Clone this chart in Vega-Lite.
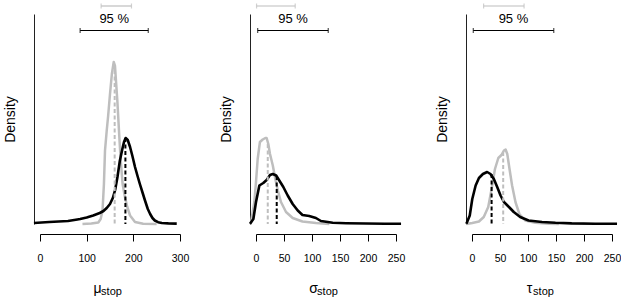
{
  "$schema": "https://vega.github.io/schema/vega-lite/v6.json",
  "padding": {"left": 3, "top": 3, "right": 0, "bottom": 0},
  "bounds": "flush",
  "spacing": 76,
  "config": {
    "view": {"stroke": null},
    "font": "Liberation Sans",
    "axisX": {"offset": 10, "tickSize": 7, "domainColor": "#000", "tickColor": "#000", "labelFontSize": 10.5, "labelColor": "#000", "labelPadding": 12, "labelFlush": false, "labelOverlap": false, "titleFontWeight": "normal", "titleColor": "#000", "titleBaseline": "alphabetic", "titleAlign": "center", "grid": false},
    "axisY": {"offset": 6, "ticks": false, "labels": false, "domainColor": "#222", "grid": false, "titleFontSize": 14, "titleFontWeight": "normal", "titleColor": "#000", "titlePadding": 17}
  },
  "datasets": {
    "curves": [
      {"p":"mu","s":"prior","x":91,"d":0},{"p":"mu","s":"prior","x":110,"d":0.5},{"p":"mu","s":"prior","x":125,"d":1.5},{"p":"mu","s":"prior","x":130,"d":5},{"p":"mu","s":"prior","x":134,"d":13.5},{"p":"mu","s":"prior","x":137,"d":40},{"p":"mu","s":"prior","x":139.3,"d":73.5},{"p":"mu","s":"prior","x":143,"d":93.5},{"p":"mu","s":"prior","x":146,"d":108},{"p":"mu","s":"prior","x":150,"d":130},{"p":"mu","s":"prior","x":154,"d":150},{"p":"mu","s":"prior","x":158,"d":162},{"p":"mu","s":"prior","x":160.7,"d":158},{"p":"mu","s":"prior","x":163,"d":142},{"p":"mu","s":"prior","x":165.7,"d":123.5},{"p":"mu","s":"prior","x":170,"d":87},{"p":"mu","s":"prior","x":173,"d":63.5},{"p":"mu","s":"prior","x":177,"d":40},{"p":"mu","s":"prior","x":182,"d":27},{"p":"mu","s":"prior","x":187,"d":17},{"p":"mu","s":"prior","x":193,"d":8.5},{"p":"mu","s":"prior","x":203.6,"d":2},{"p":"mu","s":"prior","x":221,"d":0.3},{"p":"mu","s":"prior","x":250,"d":0},
      {"p":"mu","s":"post","x":-13,"d":1},{"p":"mu","s":"post","x":20,"d":2},{"p":"mu","s":"post","x":60,"d":3},{"p":"mu","s":"post","x":80,"d":4.5},{"p":"mu","s":"post","x":86,"d":5},{"p":"mu","s":"post","x":100,"d":6.5},{"p":"mu","s":"post","x":114,"d":8.5},{"p":"mu","s":"post","x":128,"d":11},{"p":"mu","s":"post","x":136,"d":13},{"p":"mu","s":"post","x":143,"d":16},{"p":"mu","s":"post","x":150,"d":20},{"p":"mu","s":"post","x":156,"d":26},{"p":"mu","s":"post","x":161,"d":34},{"p":"mu","s":"post","x":166,"d":47},{"p":"mu","s":"post","x":171,"d":63},{"p":"mu","s":"post","x":176,"d":74},{"p":"mu","s":"post","x":180,"d":82},{"p":"mu","s":"post","x":183.5,"d":86},{"p":"mu","s":"post","x":188,"d":84},{"p":"mu","s":"post","x":193,"d":77},{"p":"mu","s":"post","x":198,"d":68},{"p":"mu","s":"post","x":203.6,"d":57},{"p":"mu","s":"post","x":209,"d":48},{"p":"mu","s":"post","x":214,"d":40},{"p":"mu","s":"post","x":220,"d":31},{"p":"mu","s":"post","x":225,"d":23.5},{"p":"mu","s":"post","x":231,"d":15},{"p":"mu","s":"post","x":236,"d":10},{"p":"mu","s":"post","x":241,"d":6},{"p":"mu","s":"post","x":246,"d":3.5},{"p":"mu","s":"post","x":253,"d":1.8},{"p":"mu","s":"post","x":261,"d":1},{"p":"mu","s":"post","x":275,"d":0.6},{"p":"mu","s":"post","x":293,"d":0.4},
      {"p":"sigma","s":"prior","x":-10,"d":0},{"p":"sigma","s":"prior","x":-9,"d":1},{"p":"sigma","s":"prior","x":-3,"d":22},{"p":"sigma","s":"prior","x":0,"d":42},{"p":"sigma","s":"prior","x":3,"d":65},{"p":"sigma","s":"prior","x":7,"d":82},{"p":"sigma","s":"prior","x":12,"d":84.5},{"p":"sigma","s":"prior","x":16.7,"d":86},{"p":"sigma","s":"prior","x":19,"d":86},{"p":"sigma","s":"prior","x":22,"d":80},{"p":"sigma","s":"prior","x":25,"d":70},{"p":"sigma","s":"prior","x":30,"d":58.5},{"p":"sigma","s":"prior","x":34.5,"d":45},{"p":"sigma","s":"prior","x":39,"d":33.5},{"p":"sigma","s":"prior","x":44.6,"d":22},{"p":"sigma","s":"prior","x":53.6,"d":12},{"p":"sigma","s":"prior","x":65.5,"d":6},{"p":"sigma","s":"prior","x":83,"d":2.5},{"p":"sigma","s":"prior","x":107,"d":1},{"p":"sigma","s":"prior","x":131,"d":0},
      {"p":"sigma","s":"post","x":-10.7,"d":0.3},{"p":"sigma","s":"post","x":-4.7,"d":5},{"p":"sigma","s":"post","x":0,"d":22},{"p":"sigma","s":"post","x":6,"d":38.5},{"p":"sigma","s":"post","x":13,"d":41},{"p":"sigma","s":"post","x":19,"d":44},{"p":"sigma","s":"post","x":25,"d":49},{"p":"sigma","s":"post","x":30,"d":50},{"p":"sigma","s":"post","x":36,"d":48.5},{"p":"sigma","s":"post","x":41.6,"d":43.5},{"p":"sigma","s":"post","x":48.8,"d":37},{"p":"sigma","s":"post","x":56.6,"d":28.5},{"p":"sigma","s":"post","x":65.5,"d":20},{"p":"sigma","s":"post","x":74.5,"d":13.5},{"p":"sigma","s":"post","x":83,"d":9},{"p":"sigma","s":"post","x":95,"d":8},{"p":"sigma","s":"post","x":107,"d":6},{"p":"sigma","s":"post","x":116,"d":3},{"p":"sigma","s":"post","x":137,"d":1.2},{"p":"sigma","s":"post","x":161,"d":0.8},{"p":"sigma","s":"post","x":196,"d":0.5},{"p":"sigma","s":"post","x":230,"d":0.3},{"p":"sigma","s":"post","x":259,"d":0.2},
      {"p":"tau","s":"prior","x":-10,"d":0},{"p":"tau","s":"prior","x":0.5,"d":1},{"p":"tau","s":"prior","x":12.4,"d":2.5},{"p":"tau","s":"prior","x":21,"d":7},{"p":"tau","s":"prior","x":29,"d":17},{"p":"tau","s":"prior","x":35,"d":35},{"p":"tau","s":"prior","x":41,"d":55},{"p":"tau","s":"prior","x":47,"d":66},{"p":"tau","s":"prior","x":52.6,"d":69},{"p":"tau","s":"prior","x":57,"d":73.5},{"p":"tau","s":"prior","x":60,"d":74.5},{"p":"tau","s":"prior","x":63,"d":70},{"p":"tau","s":"prior","x":67,"d":55},{"p":"tau","s":"prior","x":71.6,"d":38.5},{"p":"tau","s":"prior","x":77.6,"d":22},{"p":"tau","s":"prior","x":84.6,"d":10},{"p":"tau","s":"prior","x":95,"d":3.5},{"p":"tau","s":"prior","x":113,"d":1.2},{"p":"tau","s":"prior","x":137,"d":0.2},{"p":"tau","s":"prior","x":155,"d":0},
      {"p":"tau","s":"post","x":-10,"d":0.2},{"p":"tau","s":"post","x":-4,"d":8.5},{"p":"tau","s":"post","x":0.5,"d":25},{"p":"tau","s":"post","x":6.5,"d":38.5},{"p":"tau","s":"post","x":12.4,"d":46},{"p":"tau","s":"post","x":19.5,"d":50},{"p":"tau","s":"post","x":27,"d":52},{"p":"tau","s":"post","x":33,"d":50},{"p":"tau","s":"post","x":39,"d":45},{"p":"tau","s":"post","x":45,"d":37},{"p":"tau","s":"post","x":51,"d":28.5},{"p":"tau","s":"post","x":57,"d":22},{"p":"tau","s":"post","x":66,"d":17},{"p":"tau","s":"post","x":74.6,"d":12},{"p":"tau","s":"post","x":86,"d":7},{"p":"tau","s":"post","x":101,"d":3.5},{"p":"tau","s":"post","x":125,"d":2},{"p":"tau","s":"post","x":149,"d":1.2},{"p":"tau","s":"post","x":178,"d":0.6},{"p":"tau","s":"post","x":220,"d":0.3},{"p":"tau","s":"post","x":259,"d":0.2}
    ],
    "medians": [
      {"p":"mu","s":"prior","x":160,"d":154},{"p":"mu","s":"post","x":183,"d":86},
      {"p":"sigma","s":"prior","x":21,"d":80},{"p":"sigma","s":"post","x":37,"d":48},
      {"p":"tau","s":"prior","x":55.7,"d":72},{"p":"tau","s":"post","x":35,"d":50}
    ],
    "cis": [
      {"p":"mu","s":"prior","x":131,"x2":196,"d":218},{"p":"mu","s":"post","x":86,"x2":232,"d":193.5},
      {"p":"sigma","s":"prior","x":1,"x2":70,"d":218},{"p":"sigma","s":"post","x":3,"x2":129,"d":193.5},
      {"p":"tau","s":"prior","x":20.7,"x2":93,"d":218},{"p":"tau","s":"post","x":2.3,"x2":146,"d":193.5}
    ],
    "labels": [
      {"p":"mu","x":159,"d":205.5,"t":"95 %"},
      {"p":"sigma","x":66,"d":205.5,"t":"95 %"},
      {"p":"tau","x":74,"d":205.5,"t":"95 %"}
    ]
  },
  "hconcat": [
    {
      "width": 140, "height": 210,
      "resolve": {"axis": {"x": "independent"}},
      "layer": [
        {
          "encoding": {
            "x": {"field":"x","type":"quantitative","scale":{"domain":[0,300],"nice":false,"zero":false},"axis":{"values":[0,100,200,300],"orient":"bottom","titleFontSize":14,"titleX":57,"titleY":58},"title":"μ"},
            "y": {"field":"d","type":"quantitative","scale":{"domain":[0,210],"nice":false},"title":"Density"},
            "color": {"field":"s","type":"nominal","scale":{"domain":["prior","post"],"range":["#bebebe","#000000"]},"legend":null}
          },
          "layer": [
            {"data":{"name":"curves"},"transform":[{"filter":"datum.p==='mu' && datum.s==='prior'"}],"mark":{"type":"line","strokeWidth":2.5,"clip":false,"strokeJoin":"round"}},
            {"data":{"name":"curves"},"transform":[{"filter":"datum.p==='mu' && datum.s==='post'"}],"mark":{"type":"line","strokeWidth":2.6,"clip":false,"strokeJoin":"round"}},
            {"data":{"name":"medians"},"transform":[{"filter":"datum.p==='mu'"}],"mark":{"type":"rule","strokeWidth":2,"strokeDash":[4,2.5]},"encoding":{"y2":{"datum":0}}},
            {"data":{"name":"cis"},"transform":[{"filter":"datum.p==='mu'"}],"mark":{"type":"rule","strokeWidth":1.2,"clip":false},"encoding":{"x2":{"field":"x2"}}},
            {"data":{"name":"cis"},"transform":[{"filter":"datum.p==='mu'"}],"mark":{"type":"tick","orient":"vertical","size":5,"thickness":1.2,"clip":false}},
            {"data":{"name":"cis"},"transform":[{"filter":"datum.p==='mu'"}],"mark":{"type":"tick","orient":"vertical","size":5,"thickness":1.2,"clip":false},"encoding":{"x":{"field":"x2","type":"quantitative","title":"μ"}}}
          ]
        },
        {"data":{"name":"labels"},"transform":[{"filter":"datum.p==='mu'"}],"mark":{"type":"text","fontSize":13,"baseline":"middle"},
         "encoding":{
           "x":{"field":"x","type":"quantitative","scale":{"domain":[0,300],"nice":false,"zero":false},"axis":{"orient":"bottom","domain":false,"ticks":false,"labels":false,"titleFontSize":11,"titleX":71,"titleY":60.5},"title":"stop"},
           "y":{"field":"d","type":"quantitative","scale":{"domain":[0,210],"nice":false},"title":"Density"},
           "text":{"field":"t"},"color":{"value":"#000"}}}
      ]
    },
    {
      "width": 140, "height": 210,
      "resolve": {"axis": {"x": "independent"}},
      "layer": [
        {
          "encoding": {
            "x": {"field":"x","type":"quantitative","scale":{"domain":[0,250],"nice":false,"zero":false},"axis":{"values":[0,50,100,150,200,250],"orient":"bottom","titleFontSize":14,"titleX":57,"titleY":58},"title":"σ"},
            "y": {"field":"d","type":"quantitative","scale":{"domain":[0,210],"nice":false},"title":"Density"},
            "color": {"field":"s","type":"nominal","scale":{"domain":["prior","post"],"range":["#bebebe","#000000"]},"legend":null}
          },
          "layer": [
            {"data":{"name":"curves"},"transform":[{"filter":"datum.p==='sigma' && datum.s==='prior'"}],"mark":{"type":"line","strokeWidth":2.5,"clip":false,"strokeJoin":"round"}},
            {"data":{"name":"curves"},"transform":[{"filter":"datum.p==='sigma' && datum.s==='post'"}],"mark":{"type":"line","strokeWidth":2.6,"clip":false,"strokeJoin":"round"}},
            {"data":{"name":"medians"},"transform":[{"filter":"datum.p==='sigma'"}],"mark":{"type":"rule","strokeWidth":2,"strokeDash":[4,2.5]},"encoding":{"y2":{"datum":0}}},
            {"data":{"name":"cis"},"transform":[{"filter":"datum.p==='sigma'"}],"mark":{"type":"rule","strokeWidth":1.2,"clip":false},"encoding":{"x2":{"field":"x2"}}},
            {"data":{"name":"cis"},"transform":[{"filter":"datum.p==='sigma'"}],"mark":{"type":"tick","orient":"vertical","size":5,"thickness":1.2,"clip":false}},
            {"data":{"name":"cis"},"transform":[{"filter":"datum.p==='sigma'"}],"mark":{"type":"tick","orient":"vertical","size":5,"thickness":1.2,"clip":false},"encoding":{"x":{"field":"x2","type":"quantitative","title":"σ"}}}
          ]
        },
        {"data":{"name":"labels"},"transform":[{"filter":"datum.p==='sigma'"}],"mark":{"type":"text","fontSize":13,"baseline":"middle"},
         "encoding":{
           "x":{"field":"x","type":"quantitative","scale":{"domain":[0,250],"nice":false,"zero":false},"axis":{"orient":"bottom","domain":false,"ticks":false,"labels":false,"titleFontSize":11,"titleX":71,"titleY":60.5},"title":"stop"},
           "y":{"field":"d","type":"quantitative","scale":{"domain":[0,210],"nice":false},"title":"Density"},
           "text":{"field":"t"},"color":{"value":"#000"}}}
      ]
    },
    {
      "width": 140, "height": 210,
      "resolve": {"axis": {"x": "independent"}},
      "layer": [
        {
          "encoding": {
            "x": {"field":"x","type":"quantitative","scale":{"domain":[0,250],"nice":false,"zero":false},"axis":{"values":[0,50,100,150,200,250],"orient":"bottom","titleFontSize":14,"titleX":57,"titleY":58},"title":"τ"},
            "y": {"field":"d","type":"quantitative","scale":{"domain":[0,210],"nice":false},"title":"Density"},
            "color": {"field":"s","type":"nominal","scale":{"domain":["prior","post"],"range":["#bebebe","#000000"]},"legend":null}
          },
          "layer": [
            {"data":{"name":"curves"},"transform":[{"filter":"datum.p==='tau' && datum.s==='prior'"}],"mark":{"type":"line","strokeWidth":2.5,"clip":false,"strokeJoin":"round"}},
            {"data":{"name":"curves"},"transform":[{"filter":"datum.p==='tau' && datum.s==='post'"}],"mark":{"type":"line","strokeWidth":2.6,"clip":false,"strokeJoin":"round"}},
            {"data":{"name":"medians"},"transform":[{"filter":"datum.p==='tau'"}],"mark":{"type":"rule","strokeWidth":2,"strokeDash":[4,2.5]},"encoding":{"y2":{"datum":0}}},
            {"data":{"name":"cis"},"transform":[{"filter":"datum.p==='tau'"}],"mark":{"type":"rule","strokeWidth":1.2,"clip":false},"encoding":{"x2":{"field":"x2"}}},
            {"data":{"name":"cis"},"transform":[{"filter":"datum.p==='tau'"}],"mark":{"type":"tick","orient":"vertical","size":5,"thickness":1.2,"clip":false}},
            {"data":{"name":"cis"},"transform":[{"filter":"datum.p==='tau'"}],"mark":{"type":"tick","orient":"vertical","size":5,"thickness":1.2,"clip":false},"encoding":{"x":{"field":"x2","type":"quantitative","title":"τ"}}}
          ]
        },
        {"data":{"name":"labels"},"transform":[{"filter":"datum.p==='tau'"}],"mark":{"type":"text","fontSize":13,"baseline":"middle"},
         "encoding":{
           "x":{"field":"x","type":"quantitative","scale":{"domain":[0,250],"nice":false,"zero":false},"axis":{"orient":"bottom","domain":false,"ticks":false,"labels":false,"titleFontSize":11,"titleX":71,"titleY":60.5},"title":"stop"},
           "y":{"field":"d","type":"quantitative","scale":{"domain":[0,210],"nice":false},"title":"Density"},
           "text":{"field":"t"},"color":{"value":"#000"}}}
      ]
    }
  ]
}
